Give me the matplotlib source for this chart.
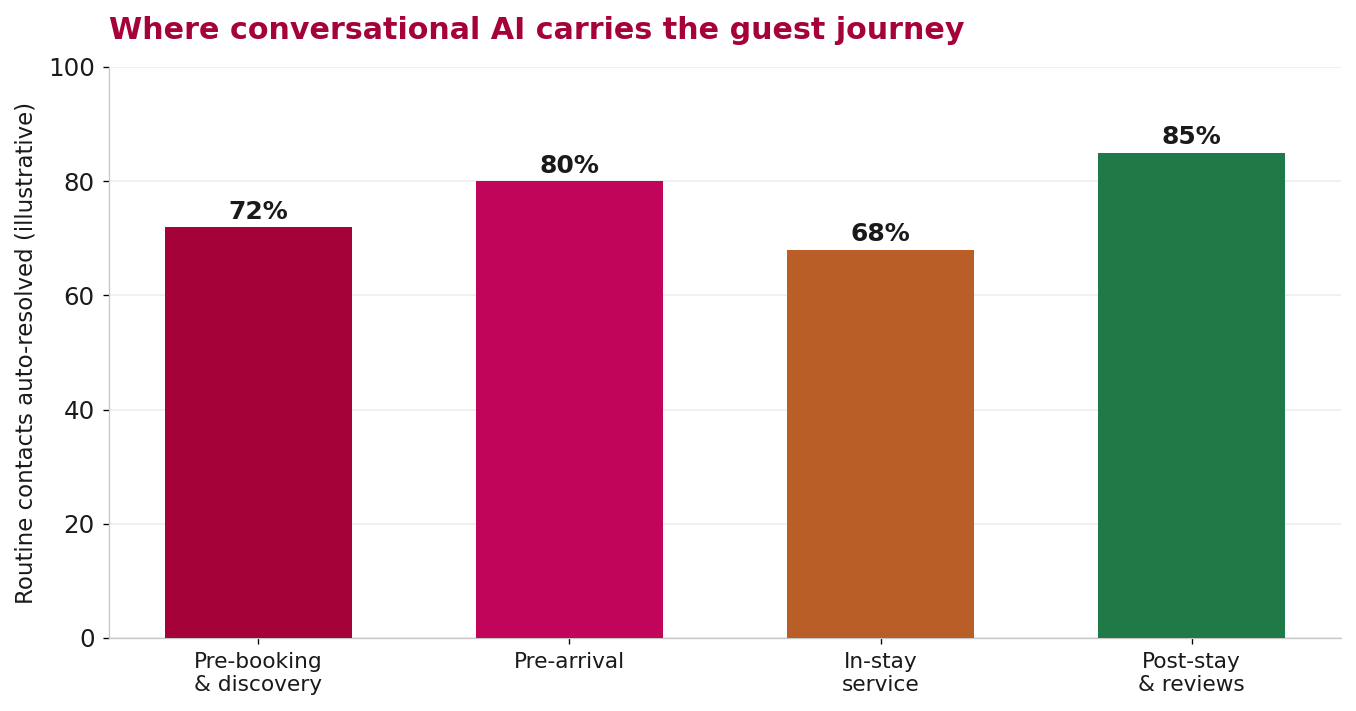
import matplotlib
matplotlib.use("Agg")
from matplotlib import pyplot as plt

stages = ["Pre-booking\n& discovery", "Pre-arrival", "In-stay\nservice", "Post-stay\n& reviews"]
resolved = [72, 80, 68, 85]
colors = ["#A6023A", "#C0055A", "#B85E26", "#1F7A48"]

text_col = "#1a1a1a"

fig, ax = plt.subplots(figsize=(11.3, 5.925), dpi=120)
fig.subplots_adjust(left=0.0804, right=0.9889, top=0.9058, bottom=0.1027)

bars = ax.bar(range(len(stages)), resolved, width=0.6, color=colors, zorder=3)
for b, v in zip(bars, resolved):
    ax.annotate(f"{v}%", (b.get_x() + b.get_width() / 2, v), xytext=(0, 2),
                textcoords="offset points", ha="center", va="bottom",
                fontsize=15, fontweight="bold", color=text_col)

ax.set_ylim(0, 100)
ax.set_yticks([0, 20, 40, 60, 80, 100])
ax.set_xticks(range(len(stages)))
ax.set_xticklabels(stages, fontsize=13, color=text_col)
ax.tick_params(axis="x", pad=5)
ax.tick_params(axis="y", labelsize=14.7, labelcolor=text_col, pad=5)
ax.set_ylabel("Routine contacts auto-resolved (illustrative)", fontsize=13.7,
              color=text_col, labelpad=6)
ax.grid(axis="y", color="#eeeeee", linewidth=1, zorder=0)

for s in ["top", "right"]:
    ax.spines[s].set_visible(False)
for s in ["left", "bottom"]:
    ax.spines[s].set_color("#c8c8c8")

ax.set_title("Where conversational AI carries the guest journey", loc="left",
             fontsize=18.1, fontweight="bold", color="#A6023A", pad=17)

fig.savefig("out.png")
